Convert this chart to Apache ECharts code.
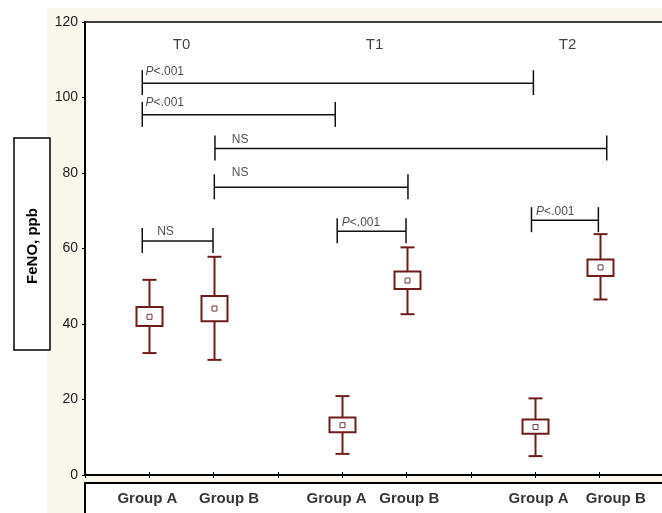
<!DOCTYPE html>
<html><head><meta charset="utf-8">
<script src="https://cdn.jsdelivr.net/npm/echarts@6/dist/echarts.min.js"></script>
<style>html,body{margin:0;padding:0;background:#fff}#c{width:662px;height:513px}</style>
</head><body><div id="c"></div>
<script>
// ---- data ----
const positions = [1, 2, 4, 5, 7, 8];
const groupNames = ['Group A', 'Group B', 'Group A', 'Group B', 'Group A', 'Group B'];
const groupLabelPos = [0.97, 2.24, 3.91, 5.04, 7.05, 8.25];
const means     = [41.9, 44.1, 13.2, 51.5, 12.7, 55.0];
const boxLow    = [39.5, 40.7, 11.3, 49.3, 10.9, 52.7];
const boxHigh   = [44.5, 47.4, 15.2, 53.9, 14.7, 57.1];
const whiskLow  = [32.3, 30.5,  5.6, 42.6,  5.0, 46.5];
const whiskHigh = [51.7, 57.8, 20.9, 60.3, 20.3, 63.8];
const timeLabels = ['T0', 'T1', 'T2'];
const timePos = [1.5, 4.5, 7.5];
const timeLabelY = 114;
// brackets: [from x, to x, level]
const bracketFrom  = [0.89, 0.89, 2.02, 2.01, 0.89, 3.92, 6.94];
const bracketTo    = [6.97, 3.89, 8.11, 5.02, 1.99, 4.99, 7.98];
const bracketLevel = [103.8, 95.4, 86.5, 76.2, 62.0, 64.6, 67.5];
const bracketText  = ['P<.001', 'P<.001', 'NS', 'NS', 'NS', 'P<.001', 'P<.001'];
const bracketTextX = [0.95, 0.95, 2.29, 2.29, 1.13, 4.00, 7.02];
const bracketTextY = [106.8, 98.6, 88.8, 79.9, 64.4, 66.8, 69.7];
const yMin = 0, yMax = 120, yStep = 20;
const yTitle = 'FeNO, ppb';

// ---- style ----
const FONT = "'Liberation Sans', Arial, Helvetica, sans-serif";
const MAROON = '#6e1c1c';
const BEIGE = '#faf8ec';
const BOXW = 26, CAP = 7;

const chart = echarts.init(document.getElementById('c'), null, {renderer: 'canvas'});

const option = {
  animation: false,
  backgroundColor: BEIGE,
  textStyle: {fontFamily: FONT},
  graphic: [
    {type: 'rect', z: -10, silent: true, shape: {x: 0, y: 0, width: 47, height: 513}, style: {fill: '#fff'}},
    {type: 'rect', z: -10, silent: true, shape: {x: 0, y: 0, width: 662, height: 8}, style: {fill: '#fff'}},
    {type: 'rect', z: 100, silent: true, shape: {x: 14, y: 138, width: 36, height: 212},
      style: {fill: '#fff', stroke: '#000', lineWidth: 1.5}},
    {type: 'text', z: 101, silent: true, x: 33, y: 246, rotation: Math.PI / 2,
      style: {text: yTitle, font: 'bold 15px ' + FONT, fill: '#000', align: 'center', verticalAlign: 'middle'}}
  ],
  grid: [
    {left: 85, top: 22, width: 579, height: 453, show: true, backgroundColor: '#fff', borderColor: '#000', borderWidth: 1.5,
      containLabel: false, outerBoundsMode: 'none'},
    {left: 85, top: 483, width: 579, height: 40, show: true, backgroundColor: '#fff', borderColor: '#000', borderWidth: 2,
      containLabel: false, outerBoundsMode: 'none'}
  ],
  xAxis: [
    {gridIndex: 0, type: 'value', min: 0, max: 9, interval: 1, position: 'bottom',
      axisLine: {show: true, lineStyle: {color: '#000', width: 1.5}},
      axisTick: {show: true, inside: true, length: 3, lineStyle: {color: '#000', width: 1}},
      axisLabel: {show: false}, splitLine: {show: false}},
    {gridIndex: 0, type: 'value', min: 0, max: 9, interval: 1, position: 'top',
      axisLine: {show: true, lineStyle: {color: '#000', width: 1.5}},
      axisTick: {show: true, inside: true, length: 3, lineStyle: {color: '#000', width: 1}},
      axisLabel: {show: false}, splitLine: {show: false}},
    {gridIndex: 1, type: 'value', min: 0, max: 9, show: false}
  ],
  yAxis: [
    {gridIndex: 0, type: 'value', min: yMin, max: yMax, interval: yStep,
      axisLine: {show: true, lineStyle: {color: '#000', width: 1.5}},
      axisTick: {show: true, length: 3, lineStyle: {color: '#000', width: 1}},
      axisLabel: {fontSize: 14, color: '#222', margin: 7, fontFamily: FONT},
      splitLine: {show: false}},
    {gridIndex: 0, type: 'value', min: yMin, max: yMax, interval: yStep, position: 'right',
      axisLine: {show: true, lineStyle: {color: '#000', width: 1.5}},
      axisTick: {show: true, inside: true, length: 3, lineStyle: {color: '#000', width: 1}},
      axisLabel: {show: false}, splitLine: {show: false}},
    {gridIndex: 1, type: 'value', min: 0, max: 1, show: false}
  ],
  series: [
    {
      type: 'custom', xAxisIndex: 0, yAxisIndex: 0, silent: true, z: 5, clip: false,
      data: positions.map((p, i) => [p, whiskLow[i], boxLow[i], means[i], boxHigh[i], whiskHigh[i]]),
      encode: {x: 0, y: [1, 2, 3, 4, 5]},
      renderItem: function (params, api) {
        const x = api.value(0);
        const pWL = api.coord([x, api.value(1)]);
        const pBL = api.coord([x, api.value(2)]);
        const pM  = api.coord([x, api.value(3)]);
        const pBH = api.coord([x, api.value(4)]);
        const pWH = api.coord([x, api.value(5)]);
        const cx = Math.round(pM[0]) + 0.5;
        const ls = {stroke: MAROON, lineWidth: 2};
        return {type: 'group', children: [
          {type: 'line', shape: {x1: cx, y1: pWH[1], x2: cx, y2: pBH[1]}, style: ls},
          {type: 'line', shape: {x1: cx, y1: pBL[1], x2: cx, y2: pWL[1]}, style: ls},
          {type: 'line', shape: {x1: cx - CAP, y1: pWH[1], x2: cx + CAP, y2: pWH[1]}, style: ls},
          {type: 'line', shape: {x1: cx - CAP, y1: pWL[1], x2: cx + CAP, y2: pWL[1]}, style: ls},
          {type: 'rect', shape: {x: cx - BOXW / 2, y: pBH[1], width: BOXW, height: pBL[1] - pBH[1]},
            style: {fill: '#fff', stroke: MAROON, lineWidth: 2}},
          {type: 'rect', shape: {x: cx - 2.5, y: pM[1] - 2.5, width: 5, height: 5},
            style: {fill: '#fff', stroke: '#6a3838', lineWidth: 1}}
        ]};
      }
    },
    {
      type: 'custom', xAxisIndex: 0, yAxisIndex: 0, silent: true, z: 4, clip: false,
      data: bracketFrom.map((f, i) => [f, bracketTo[i], bracketLevel[i]]),
      encode: {x: [0, 1], y: 2},
      renderItem: function (params, api) {
        const a = api.coord([api.value(0), api.value(2)]);
        const b = api.coord([api.value(1), api.value(2)]);
        const ls = {stroke: '#111', lineWidth: 1.5};
        return {type: 'group', children: [
          {type: 'line', shape: {x1: a[0], y1: a[1], x2: b[0], y2: b[1]}, style: ls},
          {type: 'line', shape: {x1: a[0], y1: a[1] - 13, x2: a[0], y2: a[1] + 12}, style: ls},
          {type: 'line', shape: {x1: b[0], y1: b[1] - 13, x2: b[0], y2: b[1] + 12}, style: ls}
        ]};
      }
    },
    {
      type: 'scatter', xAxisIndex: 0, yAxisIndex: 0, silent: true, symbolSize: 1,
      itemStyle: {color: 'rgba(0,0,0,0)'},
      data: bracketText.map((t, i) => ({value: [bracketTextX[i], bracketTextY[i]], name: t})),
      label: {
        show: true, position: [0, 0], align: 'left', verticalAlign: 'middle',
        formatter: function (p) {
          const t = p.name;
          if (t.charAt(0) === 'P') return '{i|P}{n|' + t.slice(1) + '}';
          return '{n|' + t + '}';
        },
        rich: {
          i: {fontStyle: 'italic', fontSize: 12, color: '#222', fontFamily: FONT},
          n: {fontSize: 12, color: '#222', fontFamily: FONT}
        }
      }
    },
    {
      type: 'scatter', xAxisIndex: 0, yAxisIndex: 0, silent: true, symbolSize: 1,
      itemStyle: {color: 'rgba(0,0,0,0)'},
      data: timeLabels.map((t, i) => ({value: [timePos[i], timeLabelY], name: t})),
      label: {show: true, position: 'inside', formatter: '{b}', fontSize: 15, color: '#111', fontFamily: FONT}
    },
    {
      type: 'scatter', xAxisIndex: 2, yAxisIndex: 2, silent: true, symbolSize: 1,
      itemStyle: {color: 'rgba(0,0,0,0)'},
      data: groupNames.map((g, i) => ({value: [groupLabelPos[i], 0.6], name: g})),
      label: {show: true, position: 'inside', formatter: '{b}', fontSize: 15, fontWeight: 'bold', color: '#000', fontFamily: FONT}
    }
  ]
};
chart.setOption(option);
</script>
</body></html>
